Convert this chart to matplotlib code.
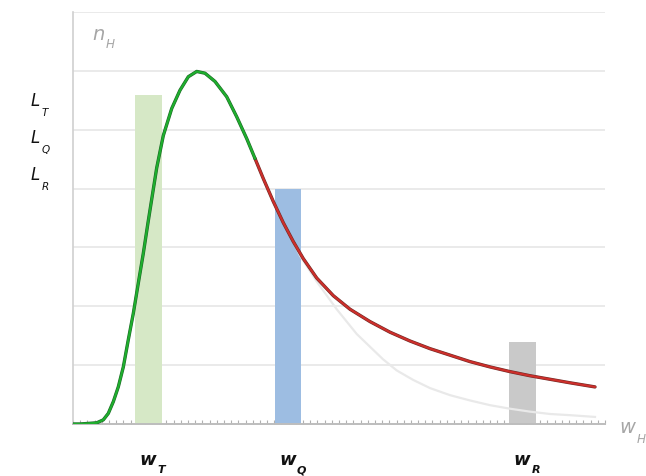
import numpy as np
import matplotlib.pyplot as plt
import matplotlib.patheffects as pe

# values (x in tick units, y in gridline units)
bar_x = [10.5, 29.9, 62.5]
bar_h = [5.59, 3.99, 1.39]
bar_colors = ["#d6e8c6", "#9dbde2", "#c9c9c9"]

green_x = [0, 1.0, 3.30, 4.21, 4.91, 5.61, 6.30, 7.00, 7.69, 8.39, 9.08,
           9.78, 10.47, 11.64, 12.56, 13.73, 14.88, 16.04, 17.21,
           18.36, 19.75, 21.38, 22.77, 24.16, 25.32]
green_y = [0, 0, 0.02, 0.07, 0.18, 0.38, 0.63, 0.97, 1.43, 1.88, 2.39,
           2.90, 3.45, 4.35, 4.90, 5.36, 5.67, 5.90, 5.99,
           5.96, 5.82, 5.56, 5.22, 4.85, 4.51]

red_x = [25.32, 26.47, 27.86, 29.25, 30.64, 32.03, 33.90, 36.21, 38.53,
         41.31, 44.09, 46.88, 49.66, 52.44, 55.22, 58.00, 60.78, 63.57,
         66.35, 69.13, 72.61]
red_y = [4.51, 4.17, 3.78, 3.42, 3.10, 2.81, 2.48, 2.18, 1.95,
         1.74, 1.56, 1.41, 1.28, 1.17, 1.06, 0.97, 0.89, 0.82,
         0.76, 0.70, 0.63]

gray_x = [30.64, 31.58, 33.90, 36.68, 39.46, 43.12, 45.03, 47.30, 49.66,
          52.44, 55.22, 58.00, 60.78, 63.57, 66.35, 69.13, 72.61]
gray_y = [3.10, 2.86, 2.42, 1.95, 1.53, 1.10, 0.91, 0.75, 0.61,
          0.49, 0.40, 0.32, 0.26, 0.21, 0.17, 0.15, 0.12]

w_labels = [("w", "T", 10.5), ("w", "Q", 29.9), ("w", "R", 62.5)]
l_labels = [("L", "T"), ("L", "Q"), ("L", "R")]

fig = plt.figure(figsize=(6.46, 4.76), dpi=100)
ax = fig.add_axes([73 / 646, 52 / 476, 532 / 646, 412 / 476])

ax.set_xlim(0, 74)
ax.set_ylim(0, 7)

for y in range(1, 8):
    ax.axhline(y, color="#e6e6e6", lw=1.2, zorder=0)

ax.bar(bar_x, bar_h, width=3.7, color=bar_colors, zorder=2)

ax.plot(gray_x, gray_y, color="#e9e9e9", lw=1.6, zorder=3,
        solid_joinstyle="round")
ax.plot(red_x, red_y, color="#cc2f2b", lw=1.6, zorder=4,
        solid_joinstyle="round", solid_capstyle="round",
        path_effects=[pe.Stroke(linewidth=2.4, foreground="#6e2a26"), pe.Normal()])
ax.plot(green_x, green_y, color="#1fae2e", lw=1.6, zorder=5,
        solid_joinstyle="round", solid_capstyle="round",
        path_effects=[pe.Stroke(linewidth=2.4, foreground="#1d6626"), pe.Normal()])

for s in ["top", "right"]:
    ax.spines[s].set_visible(False)
ax.spines["left"].set_color("#d0d0d0")
ax.spines["left"].set_linewidth(1.2)
ax.spines["bottom"].set_color("#bdbdbd")
ax.spines["bottom"].set_linewidth(1.4)

ax.set_yticks([])
ax.set_xticks([])
ax.set_xticks(np.arange(0, 75, 1), minor=True)
ax.tick_params(axis="x", which="minor", direction="in", length=3,
               color="#b0b0b0", width=0.8)


def sub_label(x, y, base, sub, size, color, weight="normal", drop=-4):
    t = fig.text(x, y, base, fontsize=size, style="italic", color=color,
                 weight=weight, ha="left", va="baseline")
    ax.annotate(sub, xy=(1, 0), xycoords=t, xytext=(1, drop),
                textcoords="offset points", fontsize=size * 0.62,
                style="italic", color=color, weight=weight,
                ha="left", va="baseline", annotation_clip=False)
    return t


sub_label(92 / 646, 1 - 40 / 476, "n", "H", 14, "#a6a6a6", drop=-3)
sub_label(619 / 646, 1 - 433 / 476, "w", "H", 14, "#a6a6a6")

for i, (b, s) in enumerate(l_labels):
    sub_label(31 / 646, 1 - (106 + 37 * i) / 476, b, s, 12, "#111111")

for b, s, xv in w_labels:
    px = 73 + xv * 532 / 74
    sub_label((px - 9) / 646, 1 - 465 / 476, b, s, 13, "#111111",
              weight="bold", drop=-3)

fig.savefig("out.png", dpi=100)
